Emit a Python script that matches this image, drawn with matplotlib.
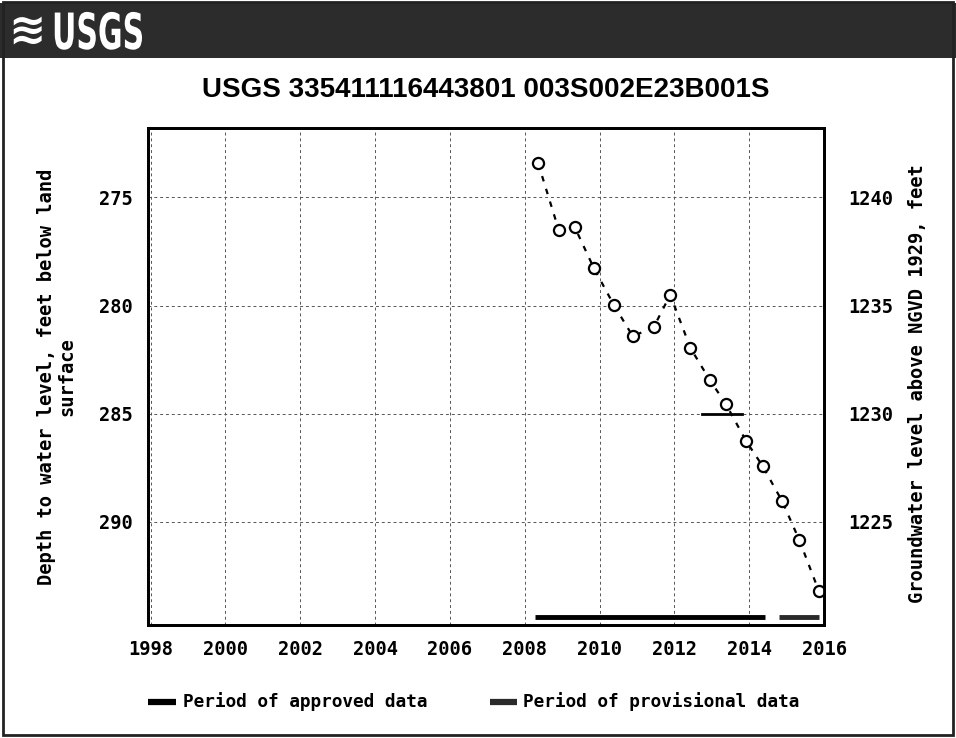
import numpy as np
import matplotlib.pyplot as plt
import matplotlib.transforms as mtransforms
from matplotlib.patches import Rectangle, PathPatch
from matplotlib.textpath import TextPath
from matplotlib.font_manager import FontProperties

# groundwater levels, depth below land surface (ft)
years = [2008.36, 2008.91, 2009.34, 2009.85, 2010.38, 2010.89, 2011.45, 2011.89,
         2012.43, 2012.94, 2013.37, 2013.92, 2014.36, 2014.88, 2015.34, 2015.86]
depth = [273.42, 276.50, 276.38, 278.27, 279.96, 281.42, 280.99, 279.50,
         281.96, 283.42, 284.53, 286.27, 287.42, 289.04, 290.84, 293.19]

approved = [2008.27, 2014.42]
provisional = [2014.81, 2015.87]
mark_seg = [2012.75, 2013.82]
mark_depth = 285.0

land_surface = 1515.0
xticks = [1998, 2000, 2002, 2004, 2006, 2008, 2010, 2012, 2014, 2016]
yticks = [275, 280, 285, 290]
rticks = [1240, 1235, 1230, 1225]

title = "USGS 335411116443801 003S002E23B001S"
mono = "DejaVu Sans Mono"

W, H = 956, 738
fig = plt.figure(figsize=(W / 100, H / 100), dpi=100)

def fx(px):
    return px / W

def fy(py):
    return 1 - py / H

# banner across the top, 1 data unit = 1 pixel
bax = fig.add_axes([0, fy(58), 1, (58 - 3) / H])
bax.set_xlim(0, W)
bax.set_ylim(0, 55)
bax.set_facecolor("#2c2c2c")
for s in bax.spines.values():
    s.set_visible(False)
bax.set_xticks([])
bax.set_yticks([])
bax.text(8, 27, "\u224b", color="white", fontsize=32, fontweight="bold",
         va="center", ha="left", family="DejaVu Sans")
# squeezed logo lettering
tp = TextPath((0, 0), "USGS", size=1, prop=FontProperties(family="DejaVu Sans", weight="bold"))
tr = mtransforms.Affine2D().scale(30, 50).translate(52, 9) + bax.transData
bax.add_patch(PathPatch(tp, transform=tr, color="white", lw=0))

fig.text(fx(486), fy(90), title, ha="center", va="center", fontsize=20,
         fontweight="bold", family=["Liberation Sans", "DejaVu Sans"])

ax = fig.add_axes([fx(148.3), fy(625), fx(824 - 148.3), (625 - 128.3) / H])
ax.set_xlim(1997.94, 2016.0)
ax.set_ylim(294.77, 271.8)
ax.set_xticks(xticks)
ax.set_yticks(yticks)
ax.grid(True, color="#555555", lw=0.7, linestyle=(0, (3, 3)))
ax.tick_params(length=0, pad=11, labelsize=13.5)
for lab in ax.get_xticklabels() + ax.get_yticklabels():
    lab.set_family(mono)
    lab.set_fontweight("bold")
for s in ax.spines.values():
    s.set_linewidth(2)

ax.plot(years, depth, color="black", lw=1.6, linestyle=(0, (2.5, 3.5)),
        marker="o", ms=8, mfc="white", mec="black", mew=1.6, zorder=4)
ax.plot(mark_seg, [mark_depth, mark_depth], color="black", lw=2, zorder=3)

bar_y = 294.42
ax.plot(approved, [bar_y, bar_y], color="black", lw=3.5, solid_capstyle="butt", zorder=3)
ax.plot(provisional, [bar_y, bar_y], color="#2a2a2a", lw=3.5, solid_capstyle="butt", zorder=3)

rax = ax.twinx()
rax.set_ylim(land_surface - 294.77, land_surface - 271.8)
rax.set_yticks(rticks)
rax.tick_params(length=0, pad=17.5, labelsize=13.5)
for lab in rax.get_yticklabels():
    lab.set_family(mono)
    lab.set_fontweight("bold")
for s in rax.spines.values():
    s.set_linewidth(2)

fig.text(fx(57), fy(377), "Depth to water level, feet below land\nsurface",
         rotation=90, ha="center", va="center", multialignment="center",
         fontsize=13.5, fontweight="bold", family=mono, linespacing=1.1)
fig.text(fx(917), fy(384), "Groundwater level above NGVD 1929, feet",
         rotation=90, ha="center", va="center",
         fontsize=13.5, fontweight="bold", family=mono)

# legend row
ly = fy(702)
fig.add_artist(plt.Line2D([fx(148), fx(176)], [ly, ly], color="black", lw=4.5,
                          solid_capstyle="butt"))
fig.text(fx(183), ly, "Period of approved data", ha="left", va="center",
         fontsize=12.75, fontweight="bold", family=mono)
fig.add_artist(plt.Line2D([fx(490), fx(517)], [ly, ly], color="#2a2a2a", lw=4.5,
                          solid_capstyle="butt"))
fig.text(fx(523), ly, "Period of provisional data", ha="left", va="center",
         fontsize=12.75, fontweight="bold", family=mono)

# page frame
fig.add_artist(Rectangle((fx(3), fy(735)), fx(950), (735 - 2) / H,
                         transform=fig.transFigure, fill=False, lw=2, ec="#222222"))

fig.savefig("out.png", dpi=100)
